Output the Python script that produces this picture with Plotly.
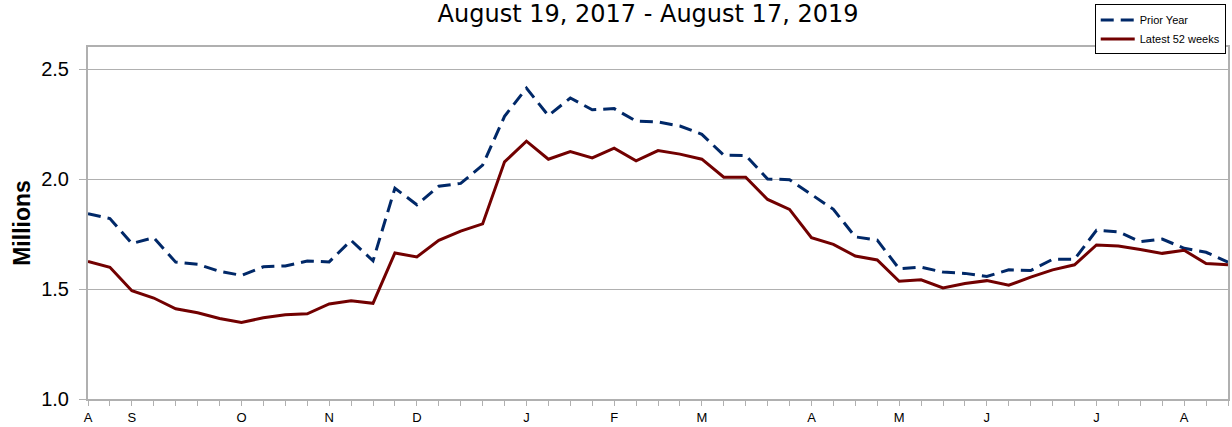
import pandas as pd
import plotly.graph_objects as go

# Week-ending dates (Saturdays) for the latest 52 weeks
weeks = pd.date_range("2018-08-18", "2019-08-17", freq="7D")

prior_year = [1.842, 1.820, 1.707, 1.733, 1.622, 1.613, 1.580, 1.562, 1.601, 1.605,
              1.627, 1.623, 1.721, 1.628, 1.958, 1.883, 1.967, 1.980, 2.063, 2.285,
              2.413, 2.288, 2.368, 2.315, 2.320, 2.263, 2.259, 2.241, 2.203, 2.108,
              2.107, 2.000, 1.997, 1.928, 1.862, 1.737, 1.722, 1.592, 1.599, 1.577,
              1.571, 1.557, 1.587, 1.584, 1.635, 1.635, 1.767, 1.760, 1.715, 1.727,
              1.685, 1.667, 1.622]

latest_52 = [1.625, 1.599, 1.492, 1.459, 1.410, 1.392, 1.366, 1.348, 1.369, 1.383,
             1.387, 1.432, 1.447, 1.435, 1.664, 1.646, 1.721, 1.763, 1.796, 2.078,
             2.172, 2.090, 2.125, 2.096, 2.140, 2.083, 2.129, 2.113, 2.090, 2.008,
             2.008, 1.907, 1.862, 1.733, 1.703, 1.650, 1.632, 1.535, 1.542, 1.505,
             1.525, 1.538, 1.517, 1.554, 1.587, 1.610, 1.700, 1.695, 1.680, 1.662,
             1.676, 1.616, 1.610]

month_tick_dates = ["2018-08-18", "2018-09-01", "2018-10-06", "2018-11-03", "2018-12-01",
                    "2019-01-05", "2019-02-02", "2019-03-02", "2019-04-06", "2019-05-04",
                    "2019-06-01", "2019-07-06", "2019-08-03"]
month_tick_labels = ["A", "S", "O", "N", "D", "J", "F", "M", "A", "M", "J", "J", "A"]

y_ticks = [1.0, 1.5, 2.0, 2.5]

FONT = "Liberation Sans, Arial, sans-serif"
GRID = "#b0b0b0"

fig = go.Figure()
fig.add_trace(go.Scatter(
    x=weeks, y=prior_year, mode="lines", name="Prior Year",
    line=dict(color="#002868", width=3, dash="13px,7px"),
))
fig.add_trace(go.Scatter(
    x=weeks, y=latest_52, mode="lines", name="Latest 52 weeks",
    line=dict(color="#720000", width=3),
))

fig.update_layout(
    width=1232, height=427,
    margin=dict(l=88, r=2, t=47, b=25),
    paper_bgcolor="white", plot_bgcolor="white",
    font=dict(family=FONT, color="black"),
    title=dict(text="August 19, 2017 - August 17, 2019", x=0.526, xanchor="center",
               y=0.967, yanchor="middle",
               font=dict(family="DejaVu Sans, sans-serif", size=24, color="black")),
    showlegend=True,
    legend=dict(x=0.998, xanchor="right", y=1.121, yanchor="top",
                bgcolor="white", bordercolor="black", borderwidth=1,
                font=dict(size=11), tracegroupgap=0, itemwidth=34,
                traceorder="normal"),
    xaxis=dict(
        type="date",
        range=[weeks[0], weeks[-1]],
        tickvals=month_tick_dates, ticktext=month_tick_labels,
        ticks="outside", ticklen=5, tickcolor=GRID, tickwidth=1,
        tickfont=dict(size=13, color="black"),
        showgrid=False, zeroline=False,
        showline=True, linecolor=GRID, linewidth=2, mirror=True,
        minor=dict(dtick=7 * 86400000, tick0="2018-08-18", ticks="outside",
                   ticklen=5, tickcolor=GRID, showgrid=False),
    ),
    yaxis=dict(
        range=[1.0, 2.6],
        tickvals=y_ticks, tickformat=".1f",
        ticks="outside", ticklen=7, tickcolor=GRID,
        ticklabelstandoff=6,
        tickfont=dict(size=20, color="black"),
        showgrid=True, gridcolor=GRID, gridwidth=1,
        zeroline=False,
        showline=True, linecolor=GRID, linewidth=2, mirror=True,
        title=dict(text="<b>Millions</b>", font=dict(size=23, color="black"), standoff=4),
    ),
)

fig.write_html("out.html", config={"displayModeBar": False},
               post_script="document.body.style.margin='0';document.body.style.overflow='hidden';")
